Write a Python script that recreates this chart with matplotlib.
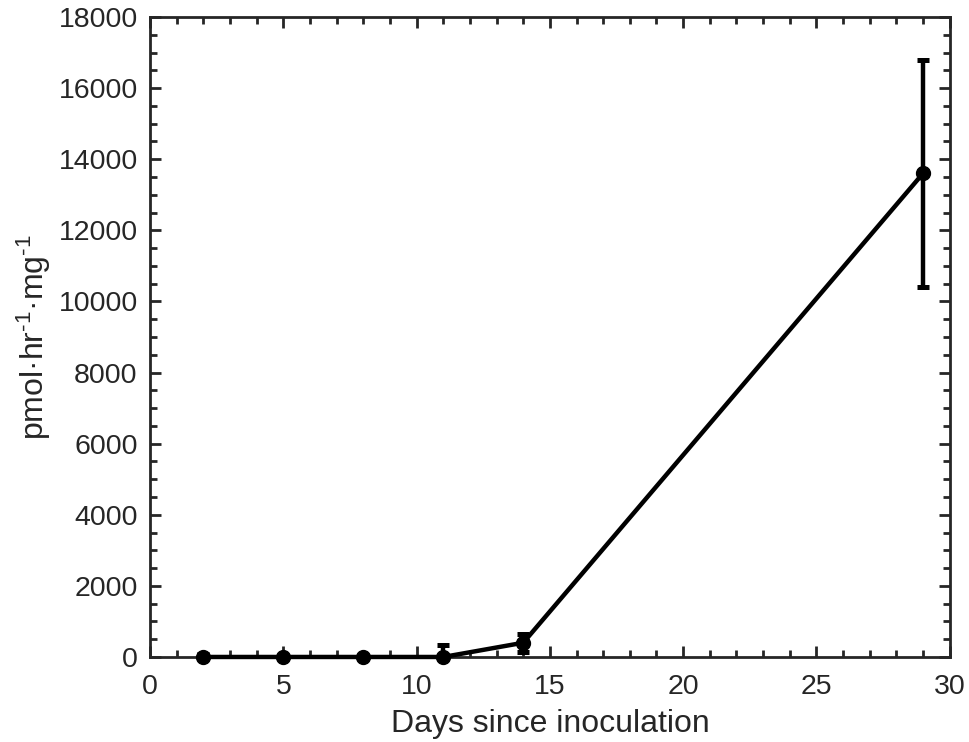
import numpy as np
import matplotlib
matplotlib.use("Agg")
import matplotlib.pyplot as plt
from matplotlib.ticker import MultipleLocator

plt.rcParams["font.family"] = ["Liberation Sans", "DejaVu Sans"]
plt.rcParams["mathtext.fontset"] = "custom"
plt.rcParams["mathtext.rm"] = "Liberation Sans"
plt.rcParams["mathtext.default"] = "regular"

# ----- Data -----

days = [2, 5, 8, 11, 14, 29]
activity = [0, 0, 0, 0, 400, 13600]
errors = [80, 40, 20, 350, 250, 3200]

# ----- Plot -----

fig = plt.figure(figsize=(9.69, 7.42), dpi=100)
ax = fig.add_axes([0.155, 0.1146, 0.825, 0.8625])

# error bars clipped at the axes, line + markers drawn on top unclipped
ax.errorbar(days, activity, yerr=errors, fmt="none", ecolor="black",
            elinewidth=3.2, capsize=4, capthick=3.6, zorder=3)
ax.plot(days, activity, color="black", lw=3.2, marker="o",
        markersize=10, clip_on=False, zorder=4)

ax.set_xlim(0, 30)
ax.set_ylim(0, 18000)
ax.xaxis.set_major_locator(MultipleLocator(5))
ax.xaxis.set_minor_locator(MultipleLocator(1))
ax.yaxis.set_major_locator(MultipleLocator(2000))
ax.yaxis.set_minor_locator(MultipleLocator(500))

ax.tick_params(which="both", direction="in", top=True, right=True,
               color="#262626", labelcolor="#262626", labelsize=20.5, width=2)
ax.tick_params(which="major", length=8)
ax.tick_params(which="minor", length=5)
ax.tick_params(axis="x", which="major", pad=12)
ax.tick_params(axis="y", which="major", pad=9)
for s in ax.spines.values():
    s.set_linewidth(2)
    s.set_color("#262626")

ax.set_xlabel("Days since inoculation", fontsize=23, color="#262626", labelpad=7)
ax.set_ylabel(r"pmol·hr$^{\text{-}1}$·mg$^{\text{-}1}$", fontsize=23,
              color="#262626", labelpad=4)

fig.savefig("out.png", dpi=100)
